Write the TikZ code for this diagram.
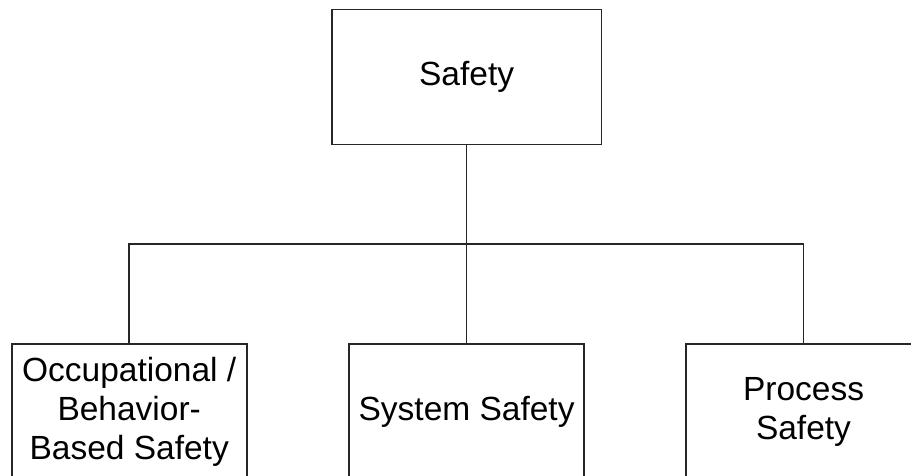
\documentclass[tikz,border=0pt]{standalone}
\usepackage{fontspec}
\setmainfont{Liberation Sans}
\begin{document}
\begin{tikzpicture}[
	x=1pt, y=-1pt,
	box/.style={ draw=black!85, line width=1.6pt, align=center, inner sep=0pt,
		font=\fontsize{33.5}{39}\selectfont },
	topbox/.style={ box, minimum width=269.6pt, minimum height=134.8pt },
	subbox/.style={ box, minimum width=235pt, minimum height=135pt },
	link/.style={ draw=black!85, line width=1.6pt }
]
\path[use as bounding box, clip] (0,0) rectangle (911,476);

\node at (466.6,77) (safety) [topbox] {Safety};
\node at (129.2,411.7) (occ) [subbox] {Occupational /\\Behavior-\\Based Safety};
\node at (466.6,411.7) (sys) [subbox] {System Safety};
\node at (803.5,411.7) (proc) [subbox] {Process\\Safety};
\coordinate (bar) at (466.6,244);

\draw[link] (safety.south) -- (bar);
\draw[link] (occ.north) |- (bar) -| (proc.north);
\draw[link] (bar) -- (sys.north);

\end{tikzpicture}
\end{document}
